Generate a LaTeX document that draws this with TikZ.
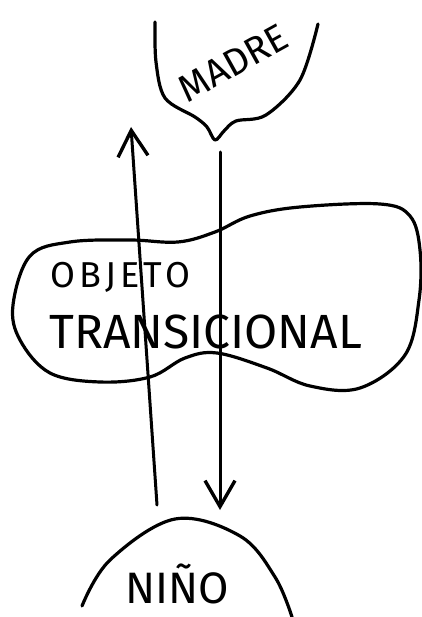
\documentclass[tikz,border=0pt]{standalone}
\usepackage{fontspec}
\setmainfont{Fira Sans}
\usetikzlibrary{arrows.meta}
\tikzset{
  outline/.style={line width=3.2pt, line cap=round, line join=round},
  conn/.style={line width=3pt, line cap=round, -{Straight Barb[length=26pt,width=30pt,line width=3.4pt]}},
  hand/.style={inner sep=0pt, font=\fontsize{36}{40}\selectfont}
}
\begin{document}
\begin{tikzpicture}[x=1pt,y=-1pt]
\useasboundingbox (0,0) rectangle (422,617);
% MADRE shape
\draw[outline] plot[smooth, tension=0.55] coordinates {(155,22) (156,62) (165,98) (195,117) (207,127) (215,140) (224,131) (236,121) (266,115) (300,80) (318,24)};
% Objeto transicional blob
\draw[outline] plot[smooth cycle, tension=0.6] coordinates {(13,305) (30,256) (70,242) (130,240) (178,242) (215,232) (250,216) (300,207) (380,204) (410,216) (420,250) (419,300) (405,355) (360,388) (310,386) (267,368) (217,353) (185,358) (150,377) (100,382) (50,373) (20,340)};
% Nino arc
\draw[outline] plot[smooth, tension=0.6] coordinates {(82,606) (110,560) (175,519) (240,536) (275,577) (292,617)};
% Texts
\node[hand, rotate=29, font=\fontsize{38}{42}\selectfont] (madre) at (233,63) {MADRE};
\node[hand, anchor=base west, font=\fontsize{36}{40}\selectfont\addfontfeature{LetterSpace=12}] (objeto) at (50,287) {OBJETO};
\node[hand, anchor=base west, font=\fontsize{48}{52}\selectfont] (trans) at (49,348) {TRANSICIONAL};
\node[hand, font=\fontsize{44}{48}\selectfont] (nino) at (177,584) {NIÑO};
% Arrow end coordinates
\coordinate (upfrom) at (157,505);
\coordinate (upto) at (131,127);
\coordinate (downfrom) at (220,152);
\coordinate (downto) at (220,510);
\draw[conn] (upfrom) -- (upto);
\draw[conn] (downfrom) -- (downto);
\end{tikzpicture}
\end{document}
